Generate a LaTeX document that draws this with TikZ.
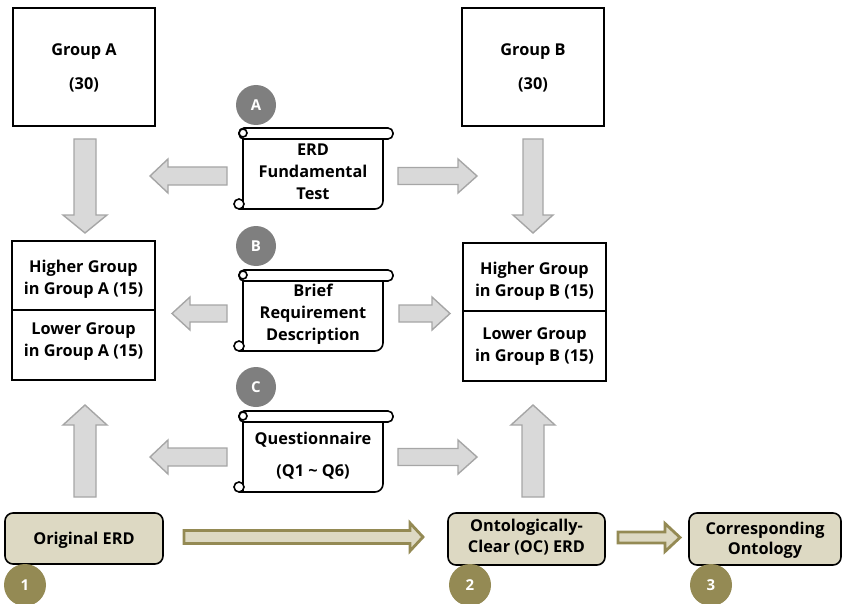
\documentclass[tikz,border=0pt]{standalone}
\usepackage{fontspec}
\setmainfont{Open Sans}
\definecolor{tanfill}{HTML}{DDD9C3}
\definecolor{olive}{HTML}{948A54}
\definecolor{badgegray}{HTML}{7F7F7F}
\definecolor{arrfill}{HTML}{D9D9D9}
\definecolor{arrline}{HTML}{A6A6A6}
\newcommand{\HArrow}[7]{% style, xtail, xbase, xtip, y, shafthalf, headhalf
  \path[#1] (#2,{#5-#6}) -- (#3,{#5-#6}) -- (#3,{#5-#7}) -- (#4,#5) -- (#3,{#5+#7}) -- (#3,{#5+#6}) -- (#2,{#5+#6}) -- cycle;}
\newcommand{\VArrow}[7]{% style, ytail, ybase, ytip, x, shafthalf, headhalf
  \path[#1] ({#5-#6},#2) -- ({#5-#6},#3) -- ({#5-#7},#3) -- (#5,#4) -- ({#5+#7},#3) -- ({#5+#6},#3) -- ({#5+#6},#2) -- cycle;}
\newcommand{\Scroll}[4]{% xleft, ytop, xright, ybottom
  \filldraw[scrollline,fill=white] ({#1+10},{#2+10}) -- ({#1+10},{#4}) -- ({#3-18},{#4}) to[out=0,in=-90] ({#3-10},{#4-8}) -- ({#3-10},{#2+10}) -- cycle;
  \filldraw[scrollline,fill=white,rounded corners=5pt] ({#1+6},{#2}) rectangle (#3,{#2+11});
  \draw[scrollline] ({#1+10},{#2+5}) circle[radius=4pt];
  \draw[scrollline,fill=white] ({#1+6},{#4-5}) circle[radius=5pt];
  \draw[scrollline] ({#1+6},{#4}) -- ({#1+12},{#4});}
\begin{document}
\begin{tikzpicture}[x=1pt,y=-1pt,
  txt/.style={font=\fontsize{16.3}{22}\selectfont\bfseries, align=center, inner sep=0pt},
  plainbox/.style={draw=black, line width=1.6pt, fill=white, inner sep=0pt},
  tanbox/.style={draw=black, line width=1.6pt, fill=tanfill, rounded corners=8pt, inner sep=0pt},
  badge/.style={circle, fill=badgegray, text=white, minimum size=40pt, inner sep=0pt, font=\fontsize{15}{15}\selectfont\bfseries},
  numbadge/.style={circle, fill=olive, text=white, minimum size=42pt, inner sep=0pt, font=\fontsize{15}{15}\selectfont\bfseries},
  grayarrow/.style={fill=arrfill, draw=arrline, line width=1.4pt, line join=miter},
  olivearrow/.style={fill=tanfill, draw=olive, line width=2.8pt, line join=miter},
  scrollline/.style={draw=black, line width=1.6pt}]
\useasboundingbox (0,0) rectangle (842,604);

% Group boxes
\node[plainbox, minimum width=142pt, minimum height=118pt] (ga) at (84,67) {};
\node[txt] (gat) at (84,52) {Group A};
\node[txt] (gan) at (84,85) {(30)};
\node[plainbox, minimum width=142pt, minimum height=118pt] (gb) at (533,67) {};
\node[txt] (gbt) at (533,52) {Group B};
\node[txt] (gbn) at (533,85) {(30)};

% Higher / lower boxes
\node[plainbox, minimum width=143pt, minimum height=69pt] (hia) at (83.5,275.5) {};
\node[plainbox, minimum width=143pt, minimum height=70pt] (loa) at (83.5,345) {};
\node[txt] (hiat) at (83.5,279) {Higher Group\\in Group A (15)};
\node[txt] (loat) at (83.5,342) {Lower Group\\in Group A (15)};
\node[plainbox, minimum width=143pt, minimum height=68pt] (hib) at (534.5,277) {};
\node[plainbox, minimum width=143pt, minimum height=70pt] (lob) at (534.5,346) {};
\node[txt] (hibt) at (534.5,281) {Higher Group\\in Group B (15)};
\node[txt] (lobt) at (534.5,347) {Lower Group\\in Group B (15)};

% Vertical gray arrows
\VArrow{grayarrow}{139}{215}{233}{85}{11}{22}
\VArrow{grayarrow}{139}{215}{233}{533}{10}{20}
\VArrow{grayarrow}{497}{425}{405}{85}{11}{22}
\VArrow{grayarrow}{497}{425}{405}{533}{11}{22}

% Horizontal gray arrows
\HArrow{grayarrow}{227}{168}{150}{176}{9}{17}
\HArrow{grayarrow}{398}{458}{477}{176}{8.5}{17}
\HArrow{grayarrow}{227}{190}{172}{313.5}{8.5}{16.5}
\HArrow{grayarrow}{399}{432}{450}{313.5}{8.5}{16.5}
\HArrow{grayarrow}{227}{168}{150}{457}{9}{17}
\HArrow{grayarrow}{398}{458}{477}{457}{8.5}{17}

% Scrolls
\Scroll{233}{128}{393}{209}
\node[txt] (sa) at (313,172) {ERD\\Fundamental\\Test};
\Scroll{233}{270}{393}{351}
\node[txt] (sb) at (313,314) {Brief\\Requirement\\Description};
\Scroll{233}{411}{393}{492}
\node[txt] (sc1) at (313,440) {Questionnaire};
\node[txt] (sc2) at (313,472) {(Q1 \textasciitilde{} Q6)};

% Badges
\node[badge] (ba) at (256,105) {A};
\node[badge] (bb) at (256,246) {B};
\node[badge] (bc) at (256,387) {C};

% Bottom row
\node[tanbox, minimum width=158pt, minimum height=51pt] (orig) at (84,538.5) {};
\node[txt] (origt) at (84,540) {Original ERD};
\node[tanbox, minimum width=157pt, minimum height=52pt] (oc) at (526.5,539) {};
\node[txt] (oct) at (526.5,537) {Ontologically-\\[-1pt]Clear (OC) ERD};
\node[tanbox, minimum width=152pt, minimum height=52pt] (co) at (765,539) {};
\node[txt] (cot) at (765,540) {Corresponding\\[-2pt]Ontology};

\HArrow{olivearrow}{184}{410}{423}{537}{6.5}{14}
\HArrow{olivearrow}{618}{665}{680}{537.5}{5.5}{14}

\node[numbadge] (n1) at (25,585) {1};
\node[numbadge] (n2) at (470,585) {2};
\node[numbadge] (n3) at (711,585) {3};
\end{tikzpicture}
\end{document}
